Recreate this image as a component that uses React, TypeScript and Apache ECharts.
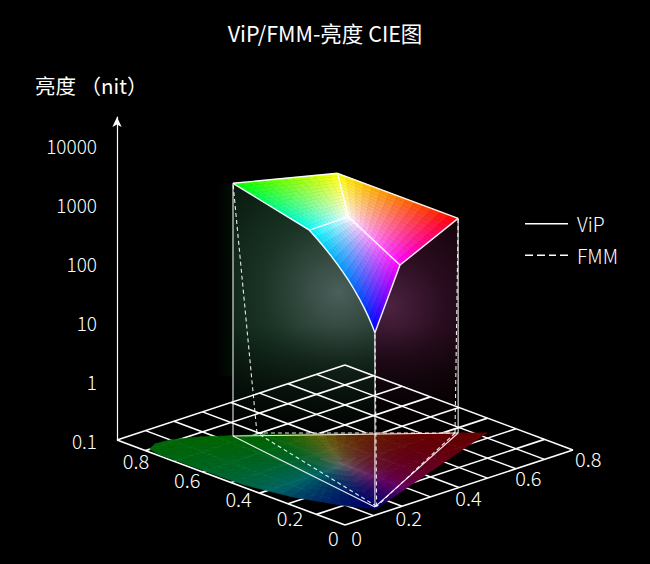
import { useEffect, useRef } from "react";
import * as echarts from "echarts";

const FONT = '"Noto Sans CJK SC", "Noto Sans", sans-serif';

const TITLE = "ViP/FMM-亮度 CIE图";
const Z_NAME = "亮度 （nit）";
const SERIES_NAMES = ["ViP", "FMM"];

// floor axes: CIE 1931 x (right) and y (left)
const FLOOR_MAX = 0.8;
const floorGrid = [0, 0.1, 0.2, 0.3, 0.4, 0.5, 0.6, 0.7, 0.8];
const floorTicks = [0, 0.2, 0.4, 0.6, 0.8];

// luminance axis (log)
const Z_MIN = 0.1;
const Z_MAX = 30000;

// spectral locus as drawn on the floor: red end -> green tip -> blue end
const locusX = [0.725, 0.618, 0.507, 0.371, 0.273, 0.17, 0.099, 0.051, 0.016, 0.006, 0.008, 0.012, 0.043, 0.091, 0.119, 0.14];
const locusY = [0.227, 0.32, 0.419, 0.529, 0.606, 0.679, 0.713, 0.718, 0.701, 0.66, 0.53, 0.37, 0.226, 0.108, 0.056, 0.03];
const whiteX = 0.313;
const whiteY = 0.329;

// gamut triangles, primaries G, R, B
const vipX = [0.236, 0.671, 0.146];
const vipY = [0.629, 0.274, 0.041];
const fmmX = [0.296, 0.665, 0.152];
const fmmY = [0.605, 0.279, 0.041];

// top of the ViP colour volume: G, Y, R, M, B, C, W
const topX = [0.236, 0.438, 0.671, 0.304, 0.146, 0.188, 0.313];
const topY = [0.629, 0.464, 0.274, 0.111, 0.041, 0.313, 0.301];
const topNits = [1930, 2700, 436, 530, 90, 1370, 1540];

// styling / topology
const TOP_RGB = [
  [0, 255, 0], [255, 255, 0], [255, 0, 0], [255, 0, 255],
  [0, 0, 255], [0, 255, 255], [255, 255, 255],
];
const TOP_FACES = [[0, 1, 6, 5], [1, 2, 3, 6], [5, 6, 3, 4]];
const TOP_EDGES = [[0, 1], [1, 2], [0, 5], [4, 3], [3, 2], [1, 6], [6, 5], [6, 3]];
const PRIMARY_TOP = [0, 2, 4];
const UX = [285, -93.75]; // pixels per unit of x on the floor
const UY = [-285, -106.25]; // pixels per unit of y on the floor
const FACE_STEPS = 14;
const RINGS = 9;
const FLOOR_DIM = 0.4;
const FLOOR_TINT = [1, 0.96, 0.78];
const LEFT_LABEL_SCALE = 0.9;
const RIGHT_LABEL_SCALE = 1.05;
const CB_BULGE = 7; // the cyan-blue edge bows outwards (px)

const SOLID_ICON = "path://M0,0H43V1.6H0Z";
const DASH_ICON = "path://M0,0H8V1.6H0ZM12,0H20V1.6H12ZM24,0H31V1.6H24ZM35,0H43V1.6H35Z";

const lerp = (a: number[], b: number[], t: number) => a.map((v, i) => v + (b[i] - v) * t);
const bilerp = (q: number[][], s: number, t: number) =>
  lerp(lerp(q[0], q[1], s), lerp(q[3], q[2], s), t);
const rgb = (c: number[]) => `rgb(${Math.round(c[0])},${Math.round(c[1])},${Math.round(c[2])})`;

// chromaticity -> displayable colour, dimmed and warmed for the floor
const cieColor = (x: number, y: number) => {
  const X = x / y;
  const Z = (1 - x - y) / y;
  const lin = [
    3.2406 * X - 1.5372 - 0.4986 * Z,
    -0.9689 * X + 1.8758 + 0.0415 * Z,
    0.0557 * X - 0.204 + 1.057 * Z,
  ].map((v, i) => Math.max(v, 0) * FLOOR_TINT[i]);
  const m = Math.max(...lin) || 1;
  return rgb(lin.map((v) => (v / m) * 255 * FLOOR_DIM));
};

const renderScene = (_params: any, api: any) => {
  const foot = api.coord([0, Z_MIN]);
  const P = (x: number, y: number, z: number = Z_MIN) => {
    const h = api.coord([0, z])[1] - foot[1];
    return [
      foot[0] + x * UX[0] + (y - FLOOR_MAX) * UY[0],
      foot[1] + x * UX[1] + (y - FLOOR_MAX) * UY[1] + h,
    ];
  };
  const kids: any[] = [];
  const seg = (a: number[], b: number[], dashed = false, w = 1.2, color = "rgba(255,255,255,0.9)") =>
    kids.push({
      type: "line",
      shape: { x1: a[0], y1: a[1], x2: b[0], y2: b[1] },
      style: { stroke: color, lineWidth: w, lineDash: dashed ? [4, 3] : null },
    });

  const top = topX.map((x, i) => P(x, topY[i], topNits[i]));
  const vipFloor = vipX.map((x, i) => P(x, vipY[i]));
  const fmmFloor = fmmX.map((x, i) => P(x, fmmY[i]));

  // surface point with the bowed cyan-blue edge (face index 2 is C, W, M, B)
  const surf = (fi: number, s: number, t: number) => {
    const p = bilerp(TOP_FACES[fi].map((i) => top[i]), s, t);
    if (fi === 2) p[0] += CB_BULGE * 4 * t * (1 - t) * (1 - s);
    return p;
  };
  const cbEdge: number[][] = [];
  for (let k = 0; k <= 12; k++) cbEdge.push(surf(2, 0, k / 12));

  // side walls
  const leftWall = [top[0], ...cbEdge, vipFloor[2], vipFloor[0]];
  const rightWall = [top[4], top[3], top[2], vipFloor[1], vipFloor[2]];
  const lc = lerp(top[5], top[4], 0.6);
  kids.push({
    type: "polygon",
    shape: { points: leftWall },
    style: {
      fill: new echarts.graphic.RadialGradient(lc[0] - 10, lc[1], 170, [
        { offset: 0, color: "rgba(80,100,96,0.95)" },
        { offset: 0.45, color: "rgba(28,56,40,0.92)" },
        { offset: 1, color: "rgba(2,20,8,0.9)" },
      ], true),
    },
  });
  const rc = lerp(top[4], top[3], 0.4);
  kids.push({
    type: "polygon",
    shape: { points: rightWall },
    style: {
      fill: new echarts.graphic.RadialGradient(rc[0] + 4, rc[1], 110, [
        { offset: 0, color: "rgba(80,36,68,0.95)" },
        { offset: 0.5, color: "rgba(45,14,34,0.92)" },
        { offset: 1, color: "rgba(22,3,10,0.9)" },
      ], true),
    },
  });
  const fadeTop = vipFloor[0][1] - 110;
  const fadeBottom = vipFloor[0][1] + 10;
  [leftWall, rightWall].forEach((pts) =>
    kids.push({
      type: "polygon",
      shape: { points: pts },
      style: {
        fill: new echarts.graphic.LinearGradient(0, fadeTop, 0, fadeBottom, [
          { offset: 0, color: "rgba(0,0,0,0)" },
          { offset: 1, color: "rgba(0,0,0,1)" },
        ], true),
      },
    })
  );
  // faint glow beside the green edge
  kids.push({
    type: "rect",
    shape: { x: top[0][0] - 16, y: top[0][1], width: 16, height: vipFloor[0][1] - top[0][1] - 60 },
    style: {
      fill: new echarts.graphic.LinearGradient(top[0][0] - 16, 0, top[0][0], 0, [
        { offset: 0, color: "rgba(0,30,10,0)" },
        { offset: 1, color: "rgba(0,32,10,0.45)" },
      ], true),
    },
  });

  // floor grid
  floorGrid.forEach((g) => {
    seg(P(g, 0), P(g, FLOOR_MAX), false, 1.6, "#fff");
    seg(P(0, g), P(FLOOR_MAX, g), false, 1.6, "#fff");
  });

  // floor labels
  const labelStyle = { fill: "#fff", fontSize: 20, fontWeight: 300, fontFamily: FONT, verticalAlign: "middle" };
  floorTicks.forEach((v) => {
    const txt = v === 0 ? "0" : v.toFixed(1);
    const l = P(0, v * LEFT_LABEL_SCALE);
    kids.push({ type: "text", style: { ...labelStyle, text: txt, x: l[0] - 17, y: l[1] + 12, align: "left" } });
    const r = P(v * RIGHT_LABEL_SCALE, 0);
    kids.push({ type: "text", style: { ...labelStyle, text: txt, x: r[0] + 17, y: r[1] + 12, align: "right" } });
  });

  // chromaticity horseshoe on the floor
  const W = [whiteX, whiteY];
  const outline = locusX.map((x, i) => [x, locusY[i]]);
  const loop = [...outline, outline[0]];
  for (let i = 0; i < loop.length - 1; i++) {
    const a = loop[i];
    const b = loop[i + 1];
    const n = Math.max(1, Math.ceil(Math.hypot(b[0] - a[0], b[1] - a[1]) / 0.03));
    for (let j = 0; j < n; j++) {
      const e0 = lerp(a, b, j / n);
      const e1 = lerp(a, b, (j + 1) / n);
      for (let k = 0; k < RINGS; k++) {
        const f0 = k / RINGS;
        const f1 = (k + 1) / RINGS;
        const pts = [lerp(W, e0, f0), lerp(W, e1, f0), lerp(W, e1, f1), lerp(W, e0, f1)];
        const mid = lerp(W, lerp(e0, e1, 0.5), (f0 + f1) / 2);
        const c = cieColor(mid[0], mid[1]);
        kids.push({
          type: "polygon",
          shape: { points: pts.map((p) => P(p[0], p[1])) },
          style: { fill: c, stroke: c, lineWidth: 0.6 },
        });
      }
    }
  }

  // gamut outlines and vertical edges
  for (let i = 0; i < 3; i++) {
    const j = (i + 1) % 3;
    seg(vipFloor[i], vipFloor[j], false, 1.1);
    seg(fmmFloor[i], fmmFloor[j], true, 1.1);
    seg(vipFloor[i], top[PRIMARY_TOP[i]], false, 1.1);
    seg(fmmFloor[i], top[PRIMARY_TOP[i]], true, 1.1);
  }

  // top surface
  TOP_FACES.forEach((face, fi) => {
    const cq = face.map((i) => TOP_RGB[i]);
    for (let a = 0; a < FACE_STEPS; a++) {
      for (let b = 0; b < FACE_STEPS; b++) {
        const s0 = a / FACE_STEPS;
        const s1 = (a + 1) / FACE_STEPS;
        const t0 = b / FACE_STEPS;
        const t1 = (b + 1) / FACE_STEPS;
        const c = rgb(bilerp(cq, (s0 + s1) / 2, (t0 + t1) / 2));
        kids.push({
          type: "polygon",
          shape: { points: [surf(fi, s0, t0), surf(fi, s1, t0), surf(fi, s1, t1), surf(fi, s0, t1)] },
          style: { fill: c, stroke: c, lineWidth: 0.6 },
        });
      }
    }
  });
  TOP_EDGES.forEach(([a, b]) => seg(top[a], top[b], false, 1.4, "rgba(255,255,255,0.95)"));
  kids.push({
    type: "polyline",
    shape: { points: cbEdge },
    style: { stroke: "rgba(255,255,255,0.95)", lineWidth: 1.4, fill: null },
  });

  return { type: "group", children: kids };
};

export default function App() {
  const ref = useRef<HTMLDivElement>(null);

  useEffect(() => {
    document.body.style.margin = "0";
    if (!ref.current) return;
    const chart = echarts.init(ref.current, null, { renderer: "svg" });
    chart.setOption({
      animation: false,
      backgroundColor: "#000",
      title: [
        {
          text: TITLE,
          left: "center",
          top: 22,
          padding: 0,
          textStyle: { color: "#fff", fontSize: 21.5, fontWeight: "normal", fontFamily: FONT },
        },
        {
          text: Z_NAME,
          left: 35,
          top: 75,
          padding: 0,
          textStyle: { color: "#fff", fontSize: 20.5, fontWeight: "normal", fontFamily: FONT },
        },
      ],
      legend: {
        data: [
          { name: SERIES_NAMES[0], icon: SOLID_ICON },
          { name: SERIES_NAMES[1], icon: DASH_ICON },
        ],
        orient: "vertical",
        left: 525,
        top: 214,
        padding: 0,
        itemWidth: 43,
        itemHeight: 14,
        itemGap: 12,
        selectedMode: false,
        itemStyle: { color: "#fff" },
        textStyle: { color: "#fff", fontSize: 19.5, fontWeight: 300, fontFamily: FONT, padding: [0, 0, 0, 4] },
      },
      grid: { left: 117, top: 117, width: 456, height: 323 },
      xAxis: { type: "value", min: 0, max: 1, show: false },
      yAxis: {
        type: "log",
        logBase: 10,
        min: Z_MIN,
        max: Z_MAX,
        axisLine: {
          show: true,
          symbol: ["none", "arrow"],
          symbolSize: [7, 10],
          lineStyle: { color: "#fff", width: 1.2 },
        },
        axisTick: { show: false },
        splitLine: { show: false },
        axisLabel: {
          color: "#fff",
          fontSize: 19,
          fontWeight: 300,
          fontFamily: FONT,
          margin: 20,
          showMaxLabel: false,
          formatter: (v: number) => String(Number(v.toPrecision(3))),
        },
      },
      series: [
        {
          type: "custom",
          coordinateSystem: "cartesian2d",
          data: [[0, Z_MIN]],
          renderItem: renderScene,
          silent: true,
        },
        {
          name: SERIES_NAMES[0],
          type: "line",
          data: [],
          symbol: "none",
          lineStyle: { color: "#fff", width: 1.5, type: "solid" },
          itemStyle: { color: "#fff" },
        },
        {
          name: SERIES_NAMES[1],
          type: "line",
          data: [],
          symbol: "none",
          lineStyle: { color: "#fff", width: 1.5, type: [6, 5] },
          itemStyle: { color: "#fff" },
        },
      ],
    });
    return () => chart.dispose();
  }, []);

  return <div ref={ref} style={{ width: 650, height: 564 }} />;
}
